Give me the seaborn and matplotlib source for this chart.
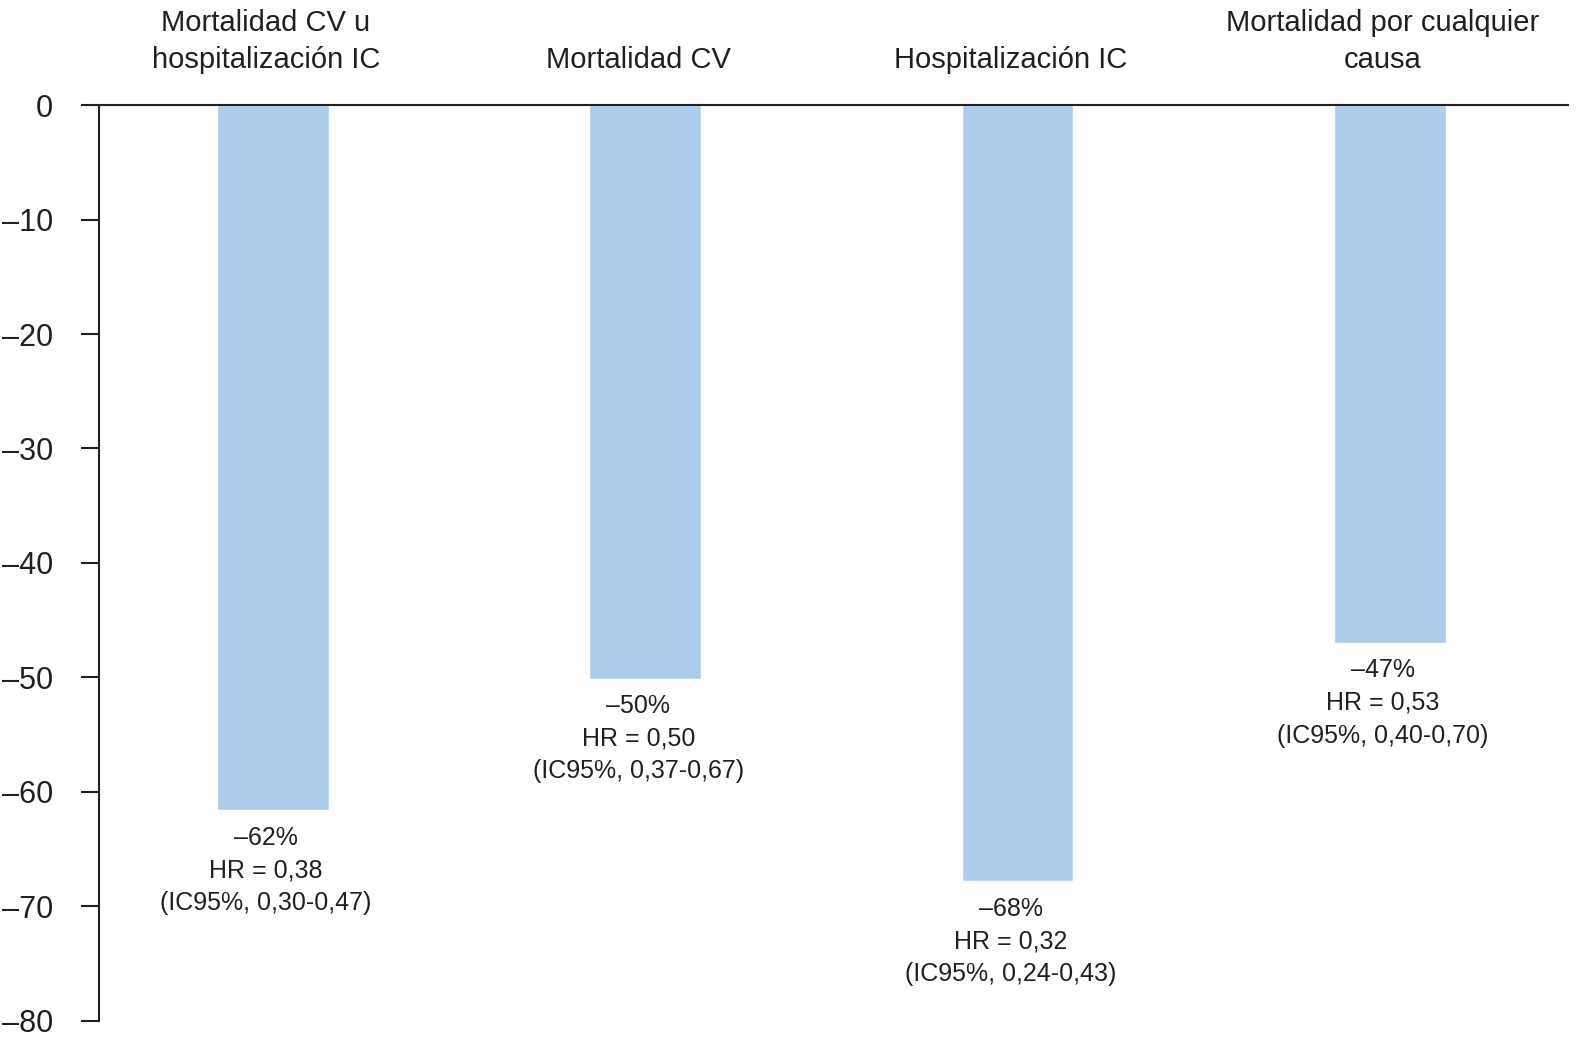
import matplotlib
matplotlib.use('Agg')
import matplotlib.pyplot as plt
import matplotlib.transforms as mtransforms
import seaborn as sns

# datos del gráfico
categories = ['Mortalidad CV u\nhospitalización IC', 'Mortalidad CV',
              'Hospitalización IC', 'Mortalidad por cualquier\ncausa']
values = [-61.6, -50.1, -67.8, -47.0]
pct_labels = ['–62%', '–50%', '–68%', '–47%']
hr_labels = ['HR = 0,38', 'HR = 0,50', 'HR = 0,32', 'HR = 0,53']
ci_labels = ['(IC95%, 0,30-0,47)', '(IC95%, 0,37-0,67)',
             '(IC95%, 0,24-0,43)', '(IC95%, 0,40-0,70)']
yticks = [0, -10, -20, -30, -40, -50, -60, -70, -80]

sns.set_style('white')
plt.rcParams['font.family'] = ['Liberation Sans', 'DejaVu Sans']

fig = plt.figure(figsize=(15.93, 10.49), dpi=100)
ax = fig.add_axes([0.0621, 0.0267, 0.9222, 0.8732])

sns.barplot(x=categories, y=values, color='#abcdeb', saturation=1,
            width=0.30, ax=ax)

ax.set_ylim(-80, 0)
ax.set_xlim(-0.467, 3.478)
ax.set_yticks(yticks)
ax.set_yticklabels([str(t).replace('-', '–') for t in yticks])

# categorías arriba
ax.xaxis.set_ticks_position('top')
ax.tick_params(axis='x', length=0, pad=22, labelsize=21, labelcolor='#231f20')
shift = mtransforms.ScaledTranslation(-7 / 100, 0, fig.dpi_scale_trans)
for lab in ax.get_xticklabels():
    lab.set_transform(lab.get_transform() + shift)
    lab.set_linespacing(1.45)

ax.tick_params(axis='y', length=13, width=1.5, pad=20, labelsize=22,
               direction='out', left=True, color='#231f20', labelcolor='#231f20')

for side in ['right', 'bottom']:
    ax.spines[side].set_visible(False)
for side in ['left', 'top']:
    ax.spines[side].set_linewidth(1.5)
    ax.spines[side].set_color('#231f20')

# etiquetas bajo cada barra
for i, v in enumerate(values):
    txt = pct_labels[i] + '\n' + hr_labels[i] + '\n' + ci_labels[i]
    ax.annotate(txt, xy=(i, v), xytext=(-5, -11), textcoords='offset points',
                ha='center', va='top', fontsize=18, linespacing=1.45,
                color='#231f20')

ax.set_xlabel('')
ax.set_ylabel('')

fig.savefig('out.png', dpi=100)
